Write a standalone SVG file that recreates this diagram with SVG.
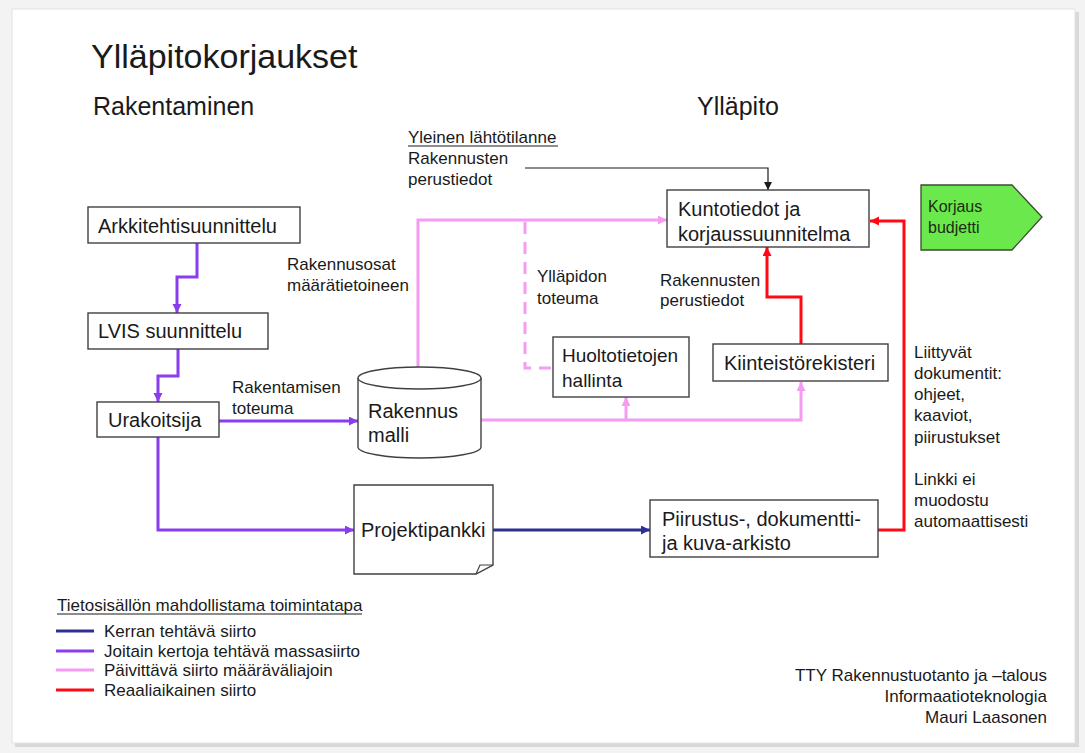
<svg xmlns="http://www.w3.org/2000/svg" width="1085" height="753" viewBox="0 0 1085 753">
<defs>
<style>
text{font-family:"Liberation Sans",Arial,sans-serif;fill:#1a1a1a}
.box{fill:#fff;stroke:#404040;stroke-width:1.4}
.bt{font-size:20px}
.lb{font-size:17px}
.h1{font-size:34px}
.h2{font-size:25px}
.purple{fill:none;stroke:#8a3cf0;stroke-width:3}
.pink{fill:none;stroke:#f59cf2;stroke-width:3}
.red{fill:none;stroke:#ff0a14;stroke-width:3}
.navy{fill:none;stroke:#2e3192;stroke-width:3}
.blk{fill:none;stroke:#1a1a1a;stroke-width:1.2}
</style>
<marker id="aP" markerUnits="userSpaceOnUse" markerWidth="10" markerHeight="10" refX="9" refY="4.5" orient="auto"><path d="M0,0 L9,4.5 L0,9 z" fill="#8a3cf0"/></marker>
<marker id="aK" markerUnits="userSpaceOnUse" markerWidth="10" markerHeight="10" refX="9" refY="4.5" orient="auto"><path d="M0,0 L9,4.5 L0,9 z" fill="#f59cf2"/></marker>
<marker id="aR" markerUnits="userSpaceOnUse" markerWidth="10" markerHeight="10" refX="9" refY="4.5" orient="auto"><path d="M0,0 L9,4.5 L0,9 z" fill="#ff0a14"/></marker>
<marker id="aN" markerUnits="userSpaceOnUse" markerWidth="10" markerHeight="10" refX="9" refY="4.5" orient="auto"><path d="M0,0 L9,4.5 L0,9 z" fill="#2e3192"/></marker>
<marker id="aB" markerUnits="userSpaceOnUse" markerWidth="10" markerHeight="10" refX="8" refY="4" orient="auto"><path d="M0,0 L8,4 L0,8 z" fill="#1a1a1a"/></marker>
</defs>
<rect x="0" y="0" width="1085" height="753" fill="#f3f3f3"/>
<rect x="15" y="12" width="1064" height="735" fill="#d9d9d9"/>
<rect x="12" y="9" width="1063" height="734" fill="#ffffff" stroke="#e2e2e2" stroke-width="1"/>

<g id="headings">
<text class="h1" x="91" y="68">Ylläpitokorjaukset</text>
<text class="h2" x="93" y="115">Rakentaminen</text>
<text class="h2" x="697" y="115">Ylläpito</text>
</g>

<g id="connectors">
<path class="purple" d="M197,243 V277 H177 V313" marker-end="url(#aP)"/>
<path class="purple" d="M178,349 V376 H158 V402" marker-end="url(#aP)"/>
<path class="purple" d="M219,421 H358" marker-end="url(#aP)"/>
<path class="purple" d="M158,437 V530 H354" marker-end="url(#aP)"/>
<path class="pink" d="M418,367 V220 H667" marker-end="url(#aK)"/>
<path class="pink" d="M525,222 V368 H553" stroke-dasharray="12,8"/>
<path class="pink" d="M481,420 H801 V382" marker-end="url(#aK)"/>
<path class="pink" d="M626,420 V397" marker-end="url(#aK)"/>
<path class="blk" d="M525,168 H768 V190" marker-end="url(#aB)"/>
<path class="red" d="M801,344 V297 H767 V247" marker-end="url(#aR)"/>
<path class="red" d="M878,530 H904 V221 H870" marker-end="url(#aR)"/>
<path class="navy" d="M493,530 H650" marker-end="url(#aN)"/>
</g>

<g id="labels">
<text class="lb" x="408" y="143">Yleinen lähtötilanne</text>
<line x1="408" y1="146" x2="558" y2="146" stroke="#1a1a1a" stroke-width="1"/>
<text class="lb" x="408" y="164">Rakennusten</text>
<text class="lb" x="408" y="185">perustiedot</text>
<text class="lb" x="287" y="270">Rakennusosat</text>
<text class="lb" x="287" y="291">määrätietoineen</text>
<text class="lb" x="232" y="393">Rakentamisen</text>
<text class="lb" x="232" y="414">toteuma</text>
<text class="lb" x="537" y="282">Ylläpidon</text>
<text class="lb" x="537" y="304">toteuma</text>
<text class="lb" x="660" y="286">Rakennusten</text>
<text class="lb" x="660" y="306">perustiedot</text>
<text class="lb" x="914" y="358">Liittyvät</text>
<text class="lb" x="914" y="379">dokumentit:</text>
<text class="lb" x="914" y="400">ohjeet,</text>
<text class="lb" x="914" y="421">kaaviot,</text>
<text class="lb" x="914" y="443">piirustukset</text>
<text class="lb" x="914" y="485">Linkki ei</text>
<text class="lb" x="914" y="506">muodostu</text>
<text class="lb" x="914" y="527">automaattisesti</text>
</g>

<g id="arkkitehtisuunnittelu">
<rect class="box" x="88" y="207" width="212" height="36"/>
<text class="bt" x="98" y="233">Arkkitehtisuunnittelu</text>
</g>
<g id="lvis">
<rect class="box" x="88" y="313" width="180" height="36"/>
<text class="bt" x="98" y="338">LVIS suunnittelu</text>
</g>
<g id="urakoitsija">
<rect class="box" x="97" y="402" width="122" height="35"/>
<text class="bt" x="108" y="427">Urakoitsija</text>
</g>
<g id="rakennusmalli">
<path class="box" d="M358,378 V447 A61.5,11 0 0 0 481,447 V378"/>
<ellipse class="box" cx="419.5" cy="378" rx="61.5" ry="11"/>
<text class="bt" x="368" y="418">Rakennus</text>
<text class="bt" x="368" y="442">malli</text>
</g>
<g id="projektipankki">
<path class="box" d="M354,485 H493 V565 L476,574 H354 Z"/>
<path d="M476,574 L480,565 L493,565" fill="none" stroke="#404040" stroke-width="1.2"/>
<text class="bt" x="361" y="537">Projektipankki</text>
</g>
<g id="kuntotiedot">
<rect class="box" x="667" y="190" width="202" height="57"/>
<text class="bt" x="678" y="216">Kuntotiedot ja</text>
<text class="bt" x="678" y="241">korjaussuunnitelma</text>
</g>
<g id="korjausbudjetti">
<path d="M921,185 H1012 L1042,217 L1012,250 H921 Z" fill="#6ae84c" stroke="#3b4a30" stroke-width="1.3"/>
<text x="928" y="212" style="font-size:16px;fill:#1d2d12">Korjaus</text>
<text x="928" y="233" style="font-size:16px;fill:#1d2d12">budjetti</text>
</g>
<g id="huoltotietojen">
<rect class="box" x="553" y="337" width="136" height="60"/>
<text class="bt" x="562" y="362" style="font-size:19px">Huoltotietojen</text>
<text class="bt" x="562" y="387" style="font-size:19px">hallinta</text>
</g>
<g id="kiinteistorekisteri">
<rect class="box" x="713" y="344" width="175" height="37"/>
<text class="bt" x="724" y="370">Kiinteistörekisteri</text>
</g>
<g id="piirustus">
<rect class="box" x="650" y="500" width="228" height="57"/>
<text class="bt" x="662" y="526">Piirustus-, dokumentti-</text>
<text class="bt" x="662" y="550">ja kuva-arkisto</text>
</g>

<g id="legend">
<text class="lb" x="57" y="611">Tietosisällön mahdollistama toimintatapa</text>
<line x1="57" y1="614" x2="362" y2="614" stroke="#1a1a1a" stroke-width="1"/>
<line x1="56" y1="631" x2="94" y2="631" class="navy"/>
<line x1="56" y1="651" x2="94" y2="651" class="purple"/>
<line x1="56" y1="670" x2="94" y2="670" class="pink"/>
<line x1="56" y1="690" x2="94" y2="690" class="red"/>
<text class="lb" x="104" y="637">Kerran tehtävä siirto</text>
<text class="lb" x="104" y="657">Joitain kertoja tehtävä massasiirto</text>
<text class="lb" x="104" y="676">Päivittävä siirto määräväliajoin</text>
<text class="lb" x="104" y="696">Reaaliaikainen siirto</text>
</g>

<g id="credits">
<text class="lb" x="1047" y="681" text-anchor="end">TTY Rakennustuotanto ja –talous</text>
<text class="lb" x="1047" y="702" text-anchor="end">Informaatioteknologia</text>
<text class="lb" x="1047" y="723" text-anchor="end">Mauri Laasonen</text>
</g>
</svg>
